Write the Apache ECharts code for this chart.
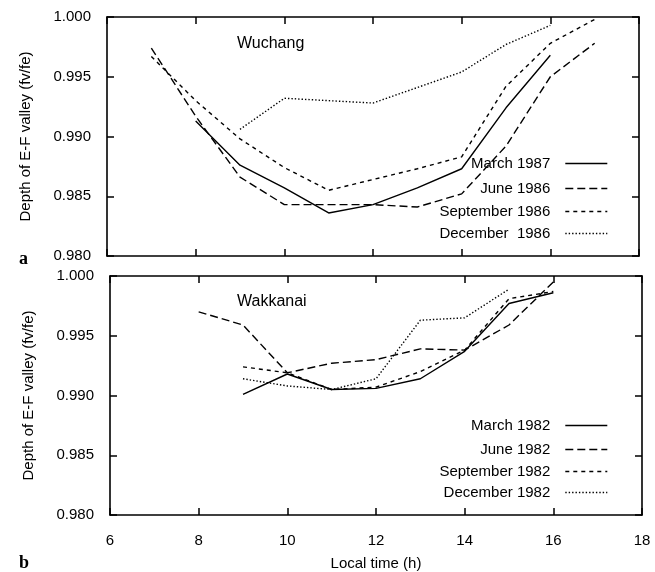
<!DOCTYPE html>
<html>
<head>
<meta charset="utf-8">
<script src="https://cdn.jsdelivr.net/npm/echarts@6/dist/echarts.min.js"></script>
<style>
  html, body { margin: 0; padding: 0; background: #fff; }
  #chart { width: 655px; height: 572px; }
</style>
</head>
<body>
<div id="chart"></div>
<script>
// data (local time in hours, depth of E-F valley)
var xTicks = [6, 8, 10, 12, 14, 16, 18];
var yTicks = [0.980, 0.985, 0.990, 0.995, 1.000];

// a: Wuchang
var wuMarchHours = [8, 9, 10, 11, 12, 13, 14, 15, 16];
var wuMarch = [0.9913, 0.9876, 0.9857, 0.9836, 0.9843, 0.9857, 0.9873, 0.9924, 0.9968];
var wuJuneHours = [7, 8, 9, 10, 11, 12, 13, 14, 15, 16, 17];
var wuJune = [0.9974, 0.9917, 0.9866, 0.9843, 0.9843, 0.9843, 0.9841, 0.9852, 0.9892, 0.9950, 0.9978];
var wuSeptHours = [7, 8, 9, 10, 11, 12, 13, 14, 15, 16, 17];
var wuSept = [0.9967, 0.9930, 0.9898, 0.9874, 0.9855, 0.9864, 0.9873, 0.9883, 0.9942, 0.9978, 0.9998];
var wuDecHours = [9, 10, 11, 12, 13, 14, 15, 16];
var wuDec = [0.9906, 0.9932, 0.9930, 0.9928, 0.9941, 0.9954, 0.9977, 0.9993];

// b: Wakkanai
var waMarchHours = [9, 10, 11, 12, 13, 14, 15, 16];
var waMarch = [0.9901, 0.9918, 0.9905, 0.9906, 0.9914, 0.9937, 0.9977, 0.9986];
var waJuneHours = [8, 9, 10, 11, 12, 13, 14, 15, 16];
var waJune = [0.9970, 0.9959, 0.9919, 0.9927, 0.9930, 0.9939, 0.9938, 0.9959, 0.9995];
var waSeptHours = [9, 10, 11, 12, 13, 14, 15, 16];
var waSept = [0.9924, 0.9919, 0.9905, 0.9907, 0.9920, 0.9938, 0.9981, 0.9987];
var waDecHours = [9, 10, 11, 12, 13, 14, 15];
var waDec = [0.9914, 0.9908, 0.9905, 0.9914, 0.9963, 0.9965, 0.9989];

var legendTop = ['March 1987', 'June 1986', 'September 1986', 'December  1986'];
var legendBottom = ['March 1982', 'June 1982', 'September 1982', 'December 1982'];

var FONT = '"Liberation Sans", Arial, sans-serif';
var dashes = ['solid', [8, 4], [4, 4], [1.4, 2]];

function pairs(xs, ys) {
    var out = [];
    for (var i = 0; i < xs.length; i++) out.push([xs[i], ys[i]]);
    return out;
}

function line(name, idx, gridIdx, xs, ys) {
    return {
        name: name,
        type: 'line',
        xAxisIndex: gridIdx * 2,
        yAxisIndex: gridIdx * 2,
        symbol: 'none',
        silent: true,
        animation: false,
        itemStyle: { color: '#000' },
        lineStyle: { color: '#000', width: 1.4, type: dashes[idx] },
        data: pairs(xs, ys)
    };
}

// axis helpers: a main axis plus a mirrored one that only draws ticks
function xAx(grid, pos, labels) {
    return {
        type: 'value', gridIndex: grid, position: pos,
        min: 6, max: 18, interval: 2,
        axisLine: { show: true, onZero: false, lineStyle: { color: '#000', width: 1.6 } },
        axisTick: { show: true, inside: true, length: 7, lineStyle: { color: '#000', width: 1.5 } },
        axisLabel: { show: labels, color: '#000', fontSize: 15, fontFamily: FONT, margin: 18, showMinLabel: true, showMaxLabel: true },
        splitLine: { show: false },
        name: labels ? 'Local time (h)' : '',
        nameLocation: 'middle', nameGap: 41,
        nameTextStyle: { color: '#000', fontSize: 15, fontFamily: FONT }
    };
}
function yAx(grid, pos, labels) {
    return {
        type: 'value', gridIndex: grid, position: pos,
        min: 0.98, max: 1.0, interval: 0.005,
        axisLine: { show: true, onZero: false, lineStyle: { color: '#000', width: 1.6 } },
        axisTick: { show: true, inside: true, length: 7, lineStyle: { color: '#000', width: 1.5 } },
        axisLabel: {
            show: labels, color: '#000', fontSize: 15, fontFamily: FONT, margin: 16,
            formatter: function (v) { return v.toFixed(3); }
        },
        splitLine: { show: false },
        name: labels ? 'Depth of E-F valley (fv/fe)' : '',
        nameLocation: 'middle', nameGap: 74,
        nameTextStyle: { color: '#000', fontSize: 15, fontFamily: FONT }
    };
}

function legendItem(name, top) {
    return {
        data: [name], right: 47, top: top, orient: 'vertical', align: 'right',
        itemWidth: 42, itemHeight: 10, selectedMode: false, padding: 0,
        itemStyle: { opacity: 0 },
        lineStyle: { width: 1.4 },
        textStyle: { color: '#000', fontSize: 15, fontFamily: FONT, padding: [0, 10, 0, 0] }
    };
}

var legendTopRows = [156, 181, 204, 226];
var legendBottomRows = [418, 442, 464, 485];
var legends = [];
for (var i = 0; i < 4; i++) legends.push(legendItem(legendTop[i], legendTopRows[i]));
for (var j = 0; j < 4; j++) legends.push(legendItem(legendBottom[j], legendBottomRows[j]));

var chart = echarts.init(document.getElementById('chart'));
var option = {
    backgroundColor: '#fff',
    animation: false,
    title: [
        { text: 'Wuchang', left: 232, top: 31, textStyle: { fontSize: 16, fontWeight: 'normal', color: '#000', fontFamily: FONT } },
        { text: 'Wakkanai', left: 232, top: 289, textStyle: { fontSize: 16, fontWeight: 'normal', color: '#000', fontFamily: FONT } },
        { text: 'a', left: 14, top: 245, textStyle: { fontSize: 18, fontWeight: 'bold', color: '#000', fontFamily: '"Liberation Serif", serif' } },
        { text: 'b', left: 14, top: 549, textStyle: { fontSize: 18, fontWeight: 'bold', color: '#000', fontFamily: '"Liberation Serif", serif' } }
    ],
    legend: legends,
    grid: [
        { left: 107, top: 17, width: 532, height: 239 },
        { left: 110, top: 276, width: 532, height: 239 }
    ],
    xAxis: [xAx(0, 'bottom', false), xAx(0, 'top', false), xAx(1, 'bottom', true), xAx(1, 'top', false)],
    yAxis: [yAx(0, 'left', true), yAx(0, 'right', false), yAx(1, 'left', true), yAx(1, 'right', false)],
    series: [
        line(legendTop[0], 0, 0, wuMarchHours, wuMarch),
        line(legendTop[1], 1, 0, wuJuneHours, wuJune),
        line(legendTop[2], 2, 0, wuSeptHours, wuSept),
        line(legendTop[3], 3, 0, wuDecHours, wuDec),
        line(legendBottom[0], 0, 1, waMarchHours, waMarch),
        line(legendBottom[1], 1, 1, waJuneHours, waJune),
        line(legendBottom[2], 2, 1, waSeptHours, waSept),
        line(legendBottom[3], 3, 1, waDecHours, waDec)
    ]
};
chart.setOption(option);
</script>
</body>
</html>
